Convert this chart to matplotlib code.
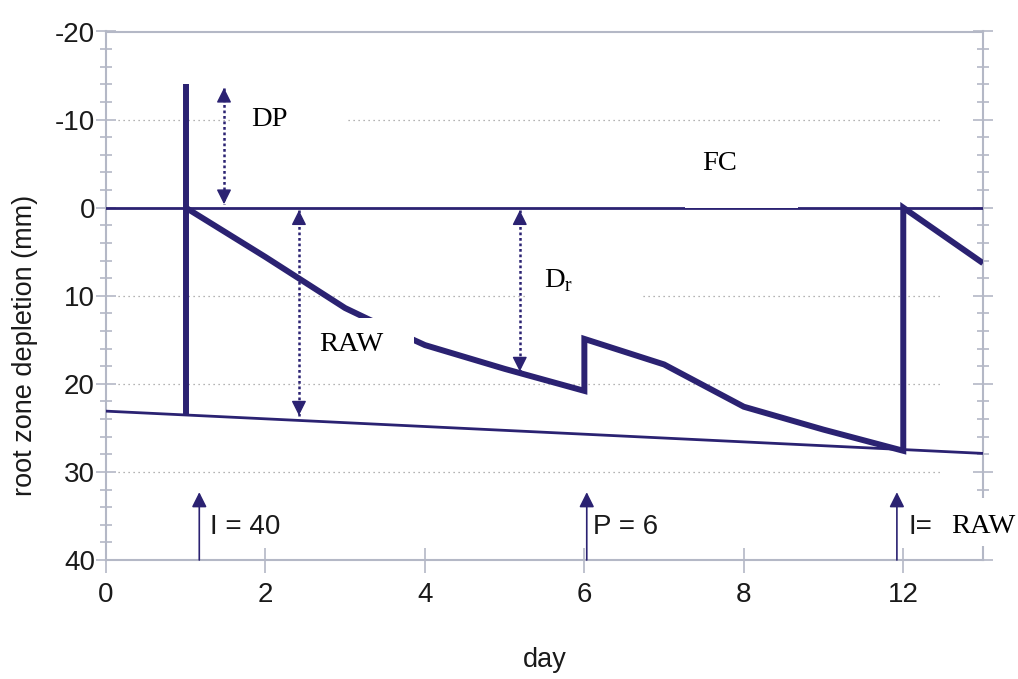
import matplotlib
matplotlib.use("Agg")
import matplotlib.pyplot as plt
from matplotlib.patches import Rectangle
from matplotlib.ticker import MultipleLocator


DAYS = [1, 2, 3, 3.3, 4, 5, 6, 6, 7, 8, 9, 10, 10, 11]
DEPLETION = [0, 5.6, 11.4, 12.7, 15.6, 18.3, 20.8, 14.9, 17.8, 22.6, 25.2, 27.6, 0, 6.3]

SPIKE_DAYS = [1, 1]
SPIKE_DEPLETION = [23.4, -14]

FC_DAYS = [0, 11]
FC_DEPLETION = [0, 0]

RAW_DAYS = [0, 11]
RAW_DEPLETION = [23.1, 27.9]

EVENT_DAYS = [1.17, 6.03, 9.92]
EVENT_LABELS = ["I = 40", "P = 6", "I="]

X_TICKS = [0, 2, 4, 6, 8, 10]
X_TICK_LABELS = ["0", "2", "4", "6", "8", "12"]
Y_TICKS = [-20, -10, 0, 10, 20, 30, 40]
Y_TICK_LABELS = ["-20", "-10", "0", "10", "20", "30", "40"]
GRID_Y = [-10, 10, 20, 30]

LINE = "#2b2272"
AXIS_GRAY = "#b4b8c6"
TEXT = "#1a1a1a"
SANS = "Liberation Sans"
SERIF = "Liberation Serif"


def white_box(ax, x0, x1, y0, y1, clip=True):
    ax.add_patch(Rectangle((x0, y0), x1 - x0, y1 - y0, facecolor="white",
                           edgecolor="none", zorder=6, clip_on=clip))


def arrow_head(ax, x, y_tip, y_from, lw=1.0, scale=10):
    ax.annotate("", xy=(x, y_tip), xytext=(x, y_from),
                arrowprops=dict(arrowstyle="-|>,head_length=0.9,head_width=0.45",
                                mutation_scale=scale, color=LINE, lw=lw,
                                shrinkA=0, shrinkB=0),
                zorder=4)


def double_arrow(ax, x, y_top, y_bottom):
    ax.plot([x, x], [y_top, y_bottom], color=LINE, lw=1.8,
            linestyle=(0, (1.1, 1.1)), zorder=4)
    arrow_head(ax, x, y_top, y_top + 0.6)
    arrow_head(ax, x, y_bottom, y_bottom - 0.6)


def main():
    plt.rcParams["font.family"] = SANS
    plt.rcParams["mathtext.fontset"] = "custom"
    plt.rcParams["mathtext.rm"] = SERIF

    fig = plt.figure(figsize=(10.18, 6.79), dpi=100)
    ax = fig.add_axes([106 / 1018, 1 - 560 / 679, 877 / 1018, 528.5 / 679])

    ax.set_xlim(0, 11)
    ax.set_ylim(40, -20)

    ax.hlines(GRID_Y, 0.15, 10.5, colors="#9a9a9a", lw=0.9,
              linestyles=[(0, (1, 3))], zorder=1)

    ax.plot(FC_DAYS, FC_DEPLETION, color=LINE, lw=2.0, zorder=3)
    ax.plot(RAW_DAYS, RAW_DEPLETION, color=LINE, lw=2.0, zorder=3)
    ax.plot(SPIKE_DAYS, SPIKE_DEPLETION, color=LINE, lw=4.3, zorder=3,
            solid_capstyle="butt")
    ax.plot(DAYS, DEPLETION, color=LINE, lw=4.3, zorder=3,
            solid_joinstyle="miter", solid_capstyle="butt")

    double_arrow(ax, 1.48, -13.6, -0.4)
    double_arrow(ax, 2.42, 0.3, 23.6)
    double_arrow(ax, 5.19, 0.3, 18.6)

    for day in EVENT_DAYS:
        ax.annotate("", xy=(day, 32.3), xytext=(day, 40),
                    arrowprops=dict(arrowstyle="-|>,head_length=0.9,head_width=0.45",
                                    mutation_scale=10, color=LINE, lw=1.2,
                                    shrinkA=0, shrinkB=0),
                    zorder=4)

    white_box(ax, 1.58, 3.04, -13.5, -7.8)
    white_box(ax, 7.26, 8.68, -7.8, 0)
    white_box(ax, 2.46, 3.86, 12.5, 17.7)
    white_box(ax, 5.28, 6.70, 4.9, 12.5)
    white_box(ax, 10.36, 11.5, 33.0, 38.4, clip=False)

    serif_kw = dict(family=SERIF, size=20.5, color="black", ha="left",
                    va="center", zorder=7)
    ax.text(1.82, -10, "DP", **serif_kw)
    ax.text(7.48, -5.0, "FC", **serif_kw)
    ax.text(2.67, 15.5, "RAW", **serif_kw)
    ax.text(5.50, 8.3, r"D$_\mathrm{r}$", **serif_kw)
    ax.text(10.60, 36.2, "RAW", clip_on=False, **serif_kw)

    label_x = [1.31, 6.11, 10.07]
    for x, label in zip(label_x, EVENT_LABELS):
        ax.text(x, 36.2, label, size=20, color=TEXT, ha="left", va="center",
                zorder=7)

    for side in ["left", "right", "top", "bottom"]:
        ax.spines[side].set_color(AXIS_GRAY)
        ax.spines[side].set_linewidth(1.5)

    ax.set_xticks(X_TICKS)
    ax.set_xticklabels(X_TICK_LABELS)
    ax.set_yticks(Y_TICKS)
    ax.set_yticklabels(Y_TICK_LABELS)
    ax.yaxis.set_minor_locator(MultipleLocator(2))

    ax.tick_params(axis="x", which="major", direction="inout", length=18,
                   width=1.2, color=AXIS_GRAY, labelsize=20, labelcolor=TEXT,
                   pad=7, top=False)
    ax.tick_params(axis="y", which="major", direction="inout", length=14,
                   width=1.2, color=AXIS_GRAY, labelsize=20, labelcolor=TEXT,
                   pad=1, left=True, right=True)
    ax.tick_params(axis="y", which="minor", direction="inout", length=9,
                   width=1.2, color=AXIS_GRAY, left=True, right=True)

    fig.text(25 / 1018, 1 - 345 / 679, "root zone depletion (mm)", rotation=90,
             ha="center", va="center", size=19.5, color=TEXT)
    fig.text(545 / 1018, 1 - 660 / 679, "day", ha="center", va="center",
             size=19.5, color=TEXT)

    fig.savefig("out.png", dpi=100)


if __name__ == "__main__":
    main()
